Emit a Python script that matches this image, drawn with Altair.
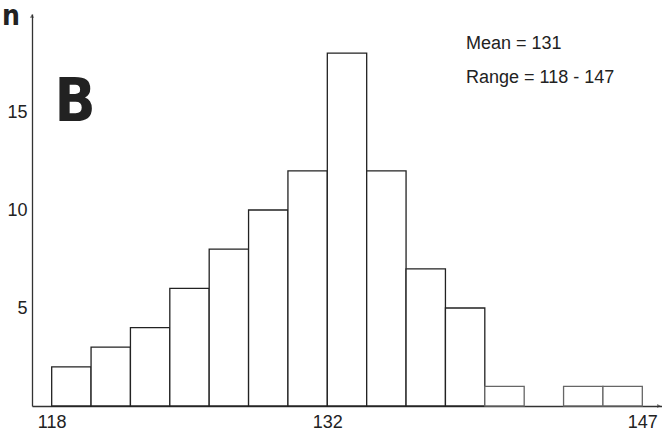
import altair as alt
import pandas as pd

# Histogram data (bins of width 2 starting at 118)
bin_starts = [118, 120, 122, 124, 126, 128, 130, 132, 134, 136, 138, 140, 142, 144, 146]
counts = [2, 3, 4, 6, 8, 10, 12, 18, 12, 7, 5, 1, 0, 1, 1]
bin_width = 2

x_tick_values = [118, 132, 148]
x_tick_labels = ["118", "132", "147"]
y_tick_values = [5, 10, 15]

annotations = ["Mean = 131", "Range = 118 - 147"]

df = pd.DataFrame({
    "start": bin_starts,
    "end": [s + bin_width for s in bin_starts],
    "n": counts,
})
df = df[df["n"] > 0]

label_map = "{" + ",".join(f"'{v}':'{l}'" for v, l in zip(x_tick_values, x_tick_labels)) + "}"

x_scale = alt.Scale(domain=[117, 149], nice=False, zero=False)
y_scale = alt.Scale(domain=[0, 20], nice=False)

bars = alt.Chart(df).mark_rect(
    fill="white", strokeWidth=1.3
).encode(
    x=alt.X("start:Q", scale=x_scale, axis=alt.Axis(
        values=x_tick_values, title=None, grid=False, tickSize=0,
        labelExpr=f"{label_map}[datum.value]",
        labelFontSize=18, labelPadding=7, labelColor="#222222",
        labelFont="Liberation Sans", domainColor="#333333", domainWidth=1.3,
    )),
    x2="end:Q",
    y=alt.Y("n:Q", scale=y_scale, axis=alt.Axis(
        values=y_tick_values, title=None, grid=False, tickSize=0,
        labelFontSize=18, labelPadding=5, labelColor="#222222",
        labelFont="Liberation Sans", domainColor="#333333", domainWidth=1.3,
    )),
    y2=alt.datum(0),
    stroke=alt.condition("datum.n <= 1", alt.value("#666666"), alt.value("#222222")),
)


def text_layer(txt, xpix, ypix, size, bold=False, font="Liberation Sans",
               align="left", baseline="middle"):
    kw = dict(align=align, baseline=baseline, fontSize=size, font=font, color="#222222")
    if bold:
        kw["fontWeight"] = "bold"
    return alt.Chart(pd.DataFrame({"t": [txt]})).mark_text(**kw).encode(
        x=alt.value(xpix), y=alt.value(ypix), text="t:N"
    )


ann_mean = text_layer(annotations[0], 434, 30, 18)
ann_range = text_layer(annotations[1], 434, 64, 18)

big_b = text_layer("B", 43, 107, 60, bold=True,
                   font="Liberation Sans Narrow, DejaVu Sans Condensed",
                   align="center", baseline="alphabetic")
n_label = text_layer("n", -21, 11, 28, bold=True,
                     font="Liberation Sans Narrow, DejaVu Sans Condensed",
                     align="center", baseline="alphabetic")

arrow_y = alt.Chart(pd.DataFrame({"a": [1]})).mark_point(
    shape="triangle-up", filled=True, size=18, color="#333333"
).encode(x=alt.value(0), y=alt.value(2))

arrow_x = alt.Chart(pd.DataFrame({"a": [1]})).mark_point(
    shape="triangle-right", filled=True, size=18, color="#333333"
).encode(x=alt.value(627), y=alt.value(392))

chart = alt.layer(bars, ann_mean, ann_range, big_b, n_label, arrow_y, arrow_x).properties(
    width=630, height=392,
    autosize=alt.AutoSizeParams(type="none"),
    padding={"left": 32, "top": 14, "right": 0, "bottom": 26},
    background="white",
).configure_view(stroke=None)

chart.save("out.html", embed_options={"renderer": "svg", "actions": False})
